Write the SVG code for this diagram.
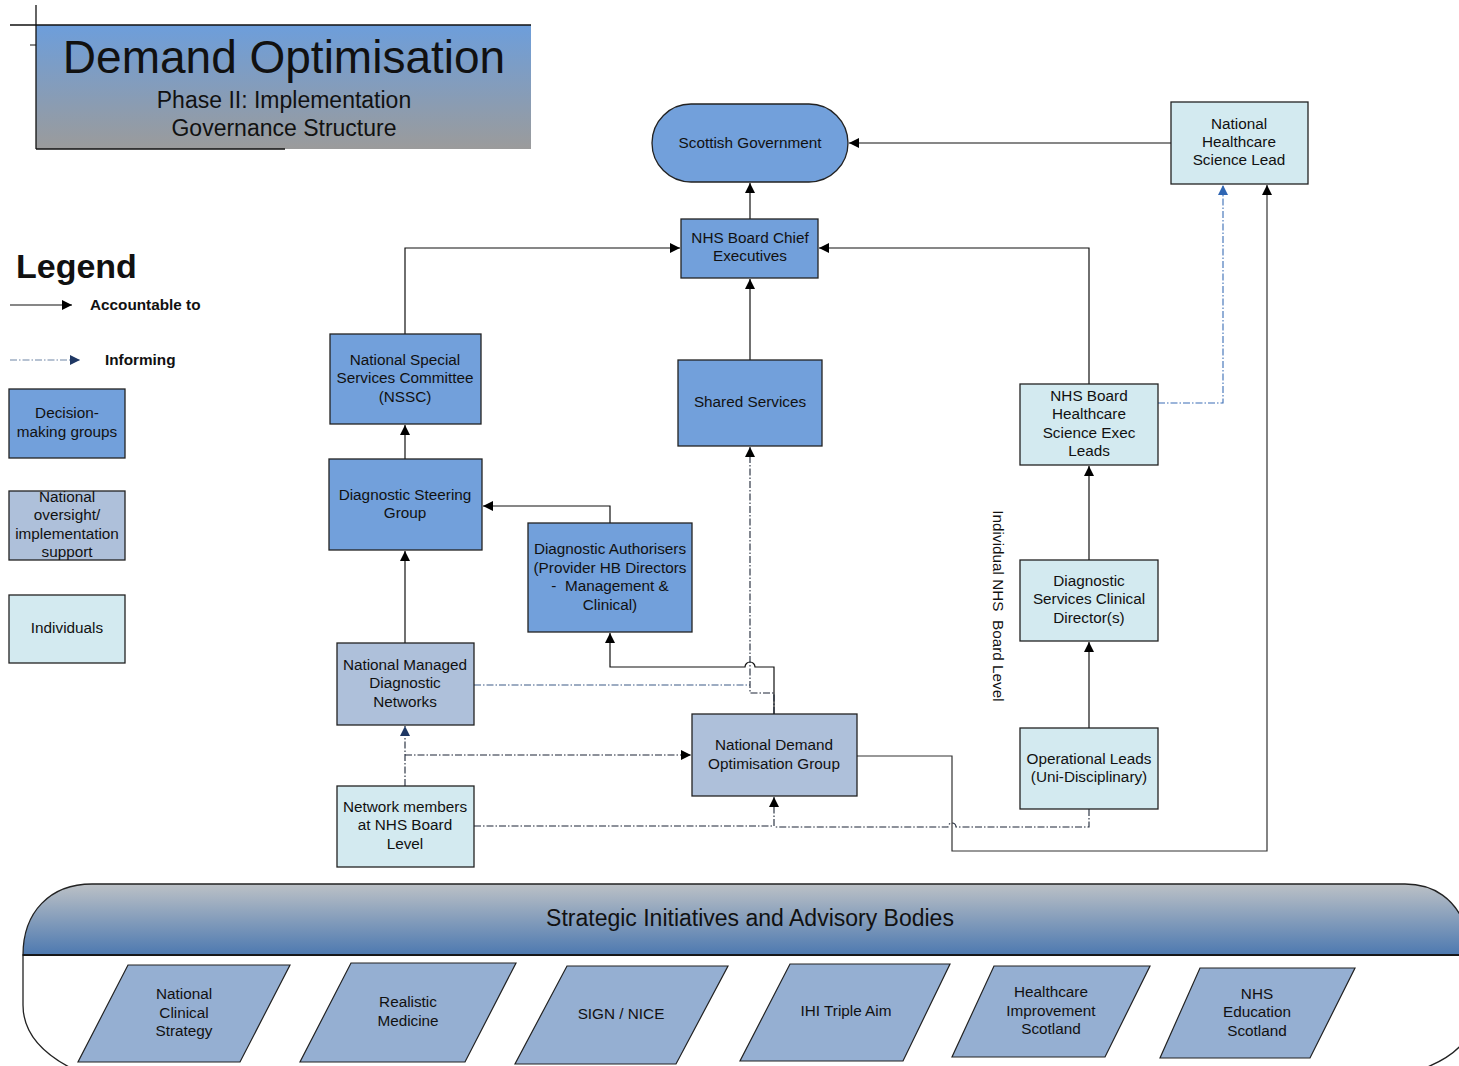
<svg xmlns="http://www.w3.org/2000/svg" width="1459" height="1066" viewBox="0 0 1459 1066">
<style>
text{font-family:"Liberation Sans",Arial,sans-serif;fill:#111;}
.t{font-size:15.3px;text-anchor:middle;}
.dec{fill:#72a0db;stroke:#222;stroke-width:1.3;}
.ovs{fill:#aec0da;stroke:#222;stroke-width:1.3;}
.ind{fill:#d3eaf0;stroke:#222;stroke-width:1.3;}
.par{fill:#95afd2;stroke:#222;stroke-width:1.2;}
.acc{fill:none;stroke:#111;stroke-width:1.2;}
.inf{fill:none;stroke:#1c2536;stroke-width:1.1;stroke-dasharray:7,2,1.5,2;}
.infm{fill:none;stroke:#3d5a86;stroke-width:1.1;stroke-dasharray:7,2,1.5,2;}
.infb{fill:none;stroke:#3a6db5;stroke-width:1.1;stroke-dasharray:7,2,1.5,2;}
</style>
<defs>
<linearGradient id="gTitle" x1="0" y1="0" x2="0" y2="1">
<stop offset="0" stop-color="#6d9edb"/>
<stop offset="1" stop-color="#9b9b9b"/>
</linearGradient>
<linearGradient id="gBand" x1="0" y1="0" x2="0" y2="1">
<stop offset="0" stop-color="#bcc1c6"/>
<stop offset="1" stop-color="#4d79b0"/>
</linearGradient>
<marker id="aBlk" markerUnits="userSpaceOnUse" markerWidth="11" markerHeight="11" refX="10" refY="5" orient="auto">
<path d="M0,0 L10,5 L0,10 z" fill="#000"/>
</marker>
<marker id="aNavy" markerUnits="userSpaceOnUse" markerWidth="11" markerHeight="11" refX="10" refY="5" orient="auto">
<path d="M0,0 L10,5 L0,10 z" fill="#1f3864"/>
</marker>
<marker id="aBlue" markerUnits="userSpaceOnUse" markerWidth="11" markerHeight="11" refX="10" refY="5" orient="auto">
<path d="M0,0 L10,5 L0,10 z" fill="#2f66b3"/>
</marker>
</defs>
<rect width="1459" height="1066" fill="#fff"/>

<!-- Title -->
<g id="title">
<rect x="36" y="25" width="495" height="124" fill="url(#gTitle)"/>
<line x1="10" y1="25" x2="531" y2="25" stroke="#111" stroke-width="1.3"/>
<line x1="36" y1="5" x2="36" y2="149" stroke="#111" stroke-width="1.3"/>
<line x1="36" y1="149" x2="285" y2="149" stroke="#111" stroke-width="1.5"/>
<line x1="30" y1="45" x2="36" y2="45" stroke="#111" stroke-width="1"/>
<text x="284" y="73" style="font-size:46px;text-anchor:middle">Demand Optimisation</text>
<text x="284" y="108" style="font-size:23px;text-anchor:middle">Phase II: Implementation</text>
<text x="284" y="136" style="font-size:23px;text-anchor:middle">Governance Structure</text>
</g>

<!-- Legend -->
<g id="legend">
<text x="16" y="278" style="font-size:34px;font-weight:bold">Legend</text>
<line x1="10" y1="305" x2="72" y2="305" class="acc" marker-end="url(#aBlk)"/>
<text x="90" y="310" style="font-size:15.3px;font-weight:bold">Accountable to</text>
<line x1="10" y1="360" x2="80" y2="360" stroke="#6f85a6" stroke-width="1.1" stroke-dasharray="7,2,1.5,2" marker-end="url(#aNavy)"/>
<text x="105" y="365" style="font-size:15.3px;font-weight:bold">Informing</text>
<rect x="9" y="389" width="116" height="69" class="dec"/>
<text class="t" x="67" y="418">Decision-</text>
<text class="t" x="67" y="437">making groups</text>
<rect x="9" y="491" width="116" height="69" class="ovs"/>
<text class="t" x="67" y="502">National</text>
<text class="t" x="67" y="520">oversight/</text>
<text class="t" x="67" y="539">implementation</text>
<text class="t" x="67" y="557">support</text>
<rect x="9" y="595" width="116" height="68" class="ind"/>
<text class="t" x="67" y="633">Individuals</text>
</g>

<!-- Connectors -->
<g id="connectors">
<path class="acc" d="M750,219 L750,183" marker-end="url(#aBlk)"/>
<path class="acc" d="M1171,143 L849,143" marker-end="url(#aBlk)"/>
<path class="acc" d="M405,334 L405,248 L680,248" marker-end="url(#aBlk)"/>
<path class="acc" d="M1089,384 L1089,248 L819,248" marker-end="url(#aBlk)"/>
<path class="acc" d="M750,360 L750,279" marker-end="url(#aBlk)"/>
<path class="infb" d="M1158,403 L1223,403 L1223,185" marker-end="url(#aBlue)"/>
<path class="acc" d="M405,459 L405,425" marker-end="url(#aBlk)"/>
<path class="acc" d="M610,523 L610,506 L483,506" marker-end="url(#aBlk)"/>
<path class="acc" d="M1089,560 L1089,466" marker-end="url(#aBlk)"/>
<path class="acc" d="M1089,728 L1089,642" marker-end="url(#aBlk)"/>
<path class="acc" d="M405,643 L405,551" marker-end="url(#aBlk)"/>
<path class="acc" d="M774,714 L774,667 L755,667 A5,5 0 0 0 745,667 L610,667 L610,633" marker-end="url(#aBlk)"/>
<path class="infm" d="M474,685 L750,685"/>
<path class="inf" d="M774,714 L774,693 L750,693 L750,447" marker-end="url(#aBlk)"/>
<path class="inf" d="M405,786 L405,726" marker-end="url(#aNavy)"/>
<path class="inf" d="M405,755 L691,755" marker-end="url(#aBlk)"/>
<path class="inf" d="M474,826 L774,826 L774,797" marker-end="url(#aBlk)"/>
<path class="inf" d="M1089,809 L1089,827 L956,827 A4,4 0 0 0 948,827 L774,827"/>
<path fill="none" stroke="#333" stroke-width="1.2" d="M857,756 L952,756 L952,851 L1267,851 L1267,185" marker-end="url(#aBlk)"/>
</g>

<!-- Nodes -->
<g id="scottish-government">
<rect x="652" y="104" width="196" height="78" rx="39" ry="39" class="dec"/>
<text class="t" x="750" y="148">Scottish Government</text>
</g>
<g id="nhs-board-chief-executives">
<rect x="681" y="219" width="137" height="59" class="dec"/>
<text class="t" x="750" y="243">NHS Board Chief</text>
<text class="t" x="750" y="261">Executives</text>
</g>
<g id="national-healthcare-science-lead">
<rect x="1171" y="102" width="137" height="82" class="ind"/>
<text class="t" x="1239" y="129">National</text>
<text class="t" x="1239" y="147">Healthcare</text>
<text class="t" x="1239" y="165">Science Lead</text>
</g>
<g id="nssc">
<rect x="330" y="334" width="151" height="90" class="dec"/>
<text class="t" x="405" y="365">National Special</text>
<text class="t" x="405" y="383">Services Committee</text>
<text class="t" x="405" y="402">(NSSC)</text>
</g>
<g id="shared-services">
<rect x="678" y="360" width="144" height="86" class="dec"/>
<text class="t" x="750" y="407">Shared Services</text>
</g>
<g id="nhs-board-hs-exec-leads">
<rect x="1020" y="384" width="138" height="81" class="ind"/>
<text class="t" x="1089" y="401">NHS Board</text>
<text class="t" x="1089" y="419">Healthcare</text>
<text class="t" x="1089" y="438">Science Exec</text>
<text class="t" x="1089" y="456">Leads</text>
</g>
<g id="diagnostic-steering-group">
<rect x="329" y="459" width="153" height="91" class="dec"/>
<text class="t" x="405" y="500">Diagnostic Steering</text>
<text class="t" x="405" y="518">Group</text>
</g>
<g id="diagnostic-authorisers">
<rect x="528" y="523" width="164" height="109" class="dec"/>
<text class="t" x="610" y="554">Diagnostic Authorisers</text>
<text class="t" x="610" y="573">(Provider HB Directors</text>
<text class="t" x="610" y="591" xml:space="preserve">-  Management &amp;</text>
<text class="t" x="610" y="610">Clinical)</text>
</g>
<g id="diagnostic-services-clinical-directors">
<rect x="1020" y="560" width="138" height="81" class="ind"/>
<text class="t" x="1089" y="586">Diagnostic</text>
<text class="t" x="1089" y="604">Services Clinical</text>
<text class="t" x="1089" y="623">Director(s)</text>
</g>
<g id="national-managed-diagnostic-networks">
<rect x="337" y="643" width="137" height="82" class="ovs"/>
<text class="t" x="405" y="670">National Managed</text>
<text class="t" x="405" y="688">Diagnostic</text>
<text class="t" x="405" y="707">Networks</text>
</g>
<g id="national-demand-optimisation-group">
<rect x="692" y="714" width="165" height="82" class="ovs"/>
<text class="t" x="774" y="750">National Demand</text>
<text class="t" x="774" y="769">Optimisation Group</text>
</g>
<g id="operational-leads">
<rect x="1020" y="728" width="138" height="81" class="ind"/>
<text class="t" x="1089" y="764">Operational Leads</text>
<text class="t" x="1089" y="782">(Uni-Disciplinary)</text>
</g>
<g id="network-members">
<rect x="337" y="786" width="137" height="81" class="ind"/>
<text class="t" x="405" y="812">Network members</text>
<text class="t" x="405" y="830">at NHS Board</text>
<text class="t" x="405" y="849">Level</text>
</g>
<g id="board-level-label">
<text transform="translate(993,606) rotate(90)" x="0" y="0" xml:space="preserve" style="font-size:15.3px;text-anchor:middle">Individual NHS  Board Level</text>
</g>

<!-- Strategic band -->
<g id="strategic-initiatives">
<path d="M71,1068 C40,1052 23,1032 23,1005 L23,955 L1470,955 L1470,1030 C1465,1045 1450,1058 1425,1068" fill="#fff" stroke="#222" stroke-width="1.3"/>
<path d="M23,955 C23,912 50,884 92,884 L1405,884 C1435,884 1455,900 1465,925 L1470,955 Z" fill="url(#gBand)" stroke="#222" stroke-width="1.3"/>
<line x1="23" y1="955" x2="1470" y2="955" stroke="#111" stroke-width="1.6"/>
<text x="750" y="926" style="font-size:23px;text-anchor:middle">Strategic Initiatives and Advisory Bodies</text>
</g>
<g id="national-clinical-strategy">
<polygon points="128,965 290,965 240,1062 78,1062" class="par"/>
<text class="t" x="184" y="999">National</text>
<text class="t" x="184" y="1018">Clinical</text>
<text class="t" x="184" y="1036">Strategy</text>
</g>
<g id="realistic-medicine">
<polygon points="351,963 516,963 465,1062 300,1062" class="par"/>
<text class="t" x="408" y="1007">Realistic</text>
<text class="t" x="408" y="1026">Medicine</text>
</g>
<g id="sign-nice">
<polygon points="567,966 728,966 676,1064 515,1064" class="par"/>
<text class="t" x="621" y="1019">SIGN / NICE</text>
</g>
<g id="ihi-triple-aim">
<polygon points="790,964 950,964 903,1061 740,1061" class="par"/>
<text class="t" x="846" y="1016">IHI Triple Aim</text>
</g>
<g id="healthcare-improvement-scotland">
<polygon points="994,966 1150,966 1105,1057 952,1057" class="par"/>
<text class="t" x="1051" y="997">Healthcare</text>
<text class="t" x="1051" y="1016">Improvement</text>
<text class="t" x="1051" y="1034">Scotland</text>
</g>
<g id="nhs-education-scotland">
<polygon points="1200,968 1355,968 1310,1058 1160,1058" class="par"/>
<text class="t" x="1257" y="999">NHS</text>
<text class="t" x="1257" y="1017">Education</text>
<text class="t" x="1257" y="1036">Scotland</text>
</g>
</svg>
